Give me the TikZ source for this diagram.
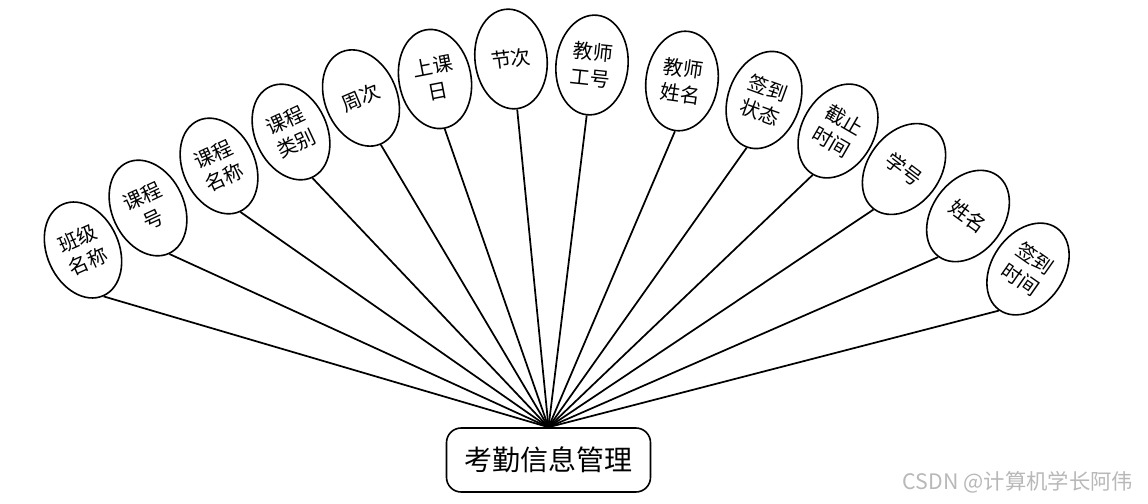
\documentclass[tikz,border=0pt]{standalone}
\usepackage{fontspec}
\setmainfont{Noto Sans CJK SC}
\usetikzlibrary{shapes.geometric}
\tikzset{
  attr/.style={ellipse,draw=black,line width=1.2pt,fill=white,minimum width=54pt,
    minimum height=75pt,inner sep=0pt,align=center,font=\fontsize{15}{19}\selectfont},
  hub/.style={draw=black,line width=1.2pt,rounded corners=11pt,minimum width=153pt,
    minimum height=48pt,font=\fontsize{21}{25}\selectfont},
  link/.style={line width=1.3pt},
  wmark/.style={text=black!28,font=\fontsize{16}{18}\selectfont},
}

\begin{document}
\begin{tikzpicture}[x=0.75pt,y=-0.75pt]
\useasboundingbox (0,0) rectangle (1148,503);
% central entity
\node[hub] (mgr) at (548.5,460) {考勤信息管理};
% attributes, fanned round the top
\foreach \i/\x/\y/\r/\txt in {1/83/250/24/班级\\名称, 2/148/208/25/课程\\号,
    3/219/166/25/课程\\名称, 4/291/132/25/课程\\类别, 5/361/98/23/周次,
    6/435/79/11/上课\\日, 7/511/59/7/节次, 8/592/65/-6/教师\\工号,
    9/682/81/-8/教师\\姓名, 10/764/100/-20/签到\\状态, 11/838/131/-30/截止\\时间,
    12/904/169/-37/学号, 13/968/216/-36/姓名, 14/1028/269/-35/签到\\时间}
{
  \node[attr,rotate=\r] (a\i) at (\x,\y) {\txt};
  \draw[link] (a\i.south) -- (mgr.north);
}
\node[wmark] (wm) at (1018,482) {CSDN @计算机学长阿伟};
\end{tikzpicture}
\end{document}
